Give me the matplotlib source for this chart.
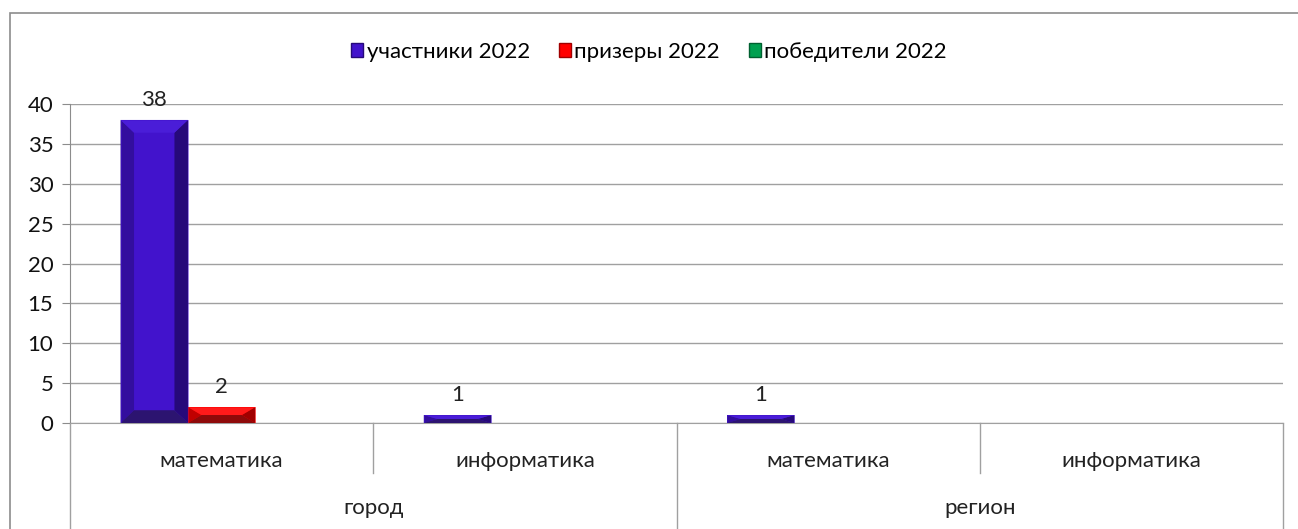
import matplotlib.pyplot as plt
import matplotlib.patches as mpatches
import matplotlib.transforms as mtransforms
import numpy as np

plt.rcParams['font.family'] = ['Lato', 'DejaVu Sans']

subjects = ["математика", "информатика", "математика", "информатика"]
levels = ["город", "регион"]
series_names = ["участники 2022", "призеры 2022", "победители 2022"]
participants = [38, 1, 1, 0]
prizewinners = [2, 0, 0, 0]
winners = [0, 0, 0, 0]

# face, left bevel, right bevel, top bevel, bottom bevel
palettes = [
    ("#4213CC", "#330E9E", "#26097A", "#4A1DD8", "#2C1470"),
    ("#FF0000", "#C00000", "#A00000", "#FF1A1A", "#8E0A0A"),
    ("#00A050", "#008040", "#006030", "#10B060", "#005028"),
]
FS = 16

fig = plt.figure(figsize=(12.98, 5.29), dpi=100)
ax = fig.add_axes([70 / 1298, 1 - 423 / 529, (1283 - 70) / 1298, (423 - 104) / 529])

# outer frame
fig.patches.append(mpatches.Rectangle((10 / 1298, -0.1), 1.2, 0.1 + 1 - 13 / 529,
                                      transform=fig.transFigure, fill=False,
                                      edgecolor="#8C8C8C", linewidth=1.2))

x = np.arange(len(subjects))
w = 1 / 4.5
all_series = [participants, prizewinners, winners]


def bevel_bar(ax, xc, h, w, pal):
    if h <= 0:
        return
    x0, x1 = xc - w / 2, xc + w / 2
    bx = 0.2 * w
    by = min(1.6, h / 2)
    face, left, right, top, bottom = pal
    ax.add_patch(mpatches.Rectangle((x0, 0), w, h, facecolor=face, edgecolor="none", zorder=3))
    ax.add_patch(mpatches.Polygon([(x0, 0), (x0 + bx, by), (x0 + bx, h - by), (x0, h)],
                                  facecolor=left, edgecolor="none", zorder=4))
    ax.add_patch(mpatches.Polygon([(x1, 0), (x1 - bx, by), (x1 - bx, h - by), (x1, h)],
                                  facecolor=right, edgecolor="none", zorder=4))
    ax.add_patch(mpatches.Polygon([(x0, h), (x0 + bx, h - by), (x1 - bx, h - by), (x1, h)],
                                  facecolor=top, edgecolor="none", zorder=4))
    ax.add_patch(mpatches.Polygon([(x0, 0), (x0 + bx, by), (x1 - bx, by), (x1, 0)],
                                  facecolor=bottom, edgecolor="none", zorder=4))
    ax.add_patch(mpatches.Rectangle((x0, 0), w, h, fill=False, edgecolor=face,
                                    linewidth=0.6, alpha=0.6, zorder=5))
    ax.annotate(str(h), (xc, h), xytext=(0, 7), textcoords="offset points",
                ha="center", va="bottom", fontsize=FS, color="#222222")


for i, vals in enumerate(all_series):
    for j, v in enumerate(vals):
        bevel_bar(ax, x[j] + (i - 1) * w, v, w, palettes[i])

ax.set_xlim(-0.5, len(subjects) - 0.5)
ax.set_ylim(0, 40)
ax.set_yticks(range(0, 41, 5))
ax.tick_params(axis="y", labelsize=FS, length=6, color="#8C8C8C", pad=6, labelcolor="#111111")
ax.set_xticks([])
ax.grid(axis="y", color="#A0A0A0", linewidth=1)
ax.set_axisbelow(True)
for s in ["top", "right"]:
    ax.spines[s].set_visible(False)
ax.spines["left"].set_color("#8C8C8C")
ax.spines["bottom"].set_color("#A0A0A0")

# category axis
tr = mtransforms.blended_transform_factory(ax.transData, ax.transAxes)
for j, s in enumerate(subjects):
    ax.text(x[j], -0.119, s, transform=tr, ha="center", va="center", fontsize=FS, color="#222222")
for k, lv in enumerate(levels):
    ax.text(2 * k + 0.5, -0.266, lv, transform=tr, ha="center", va="center", fontsize=FS, color="#222222")
for b in [0.5, 2.5]:
    ax.plot([b, b], [0, -0.157], transform=tr, color="#A0A0A0", linewidth=1, clip_on=False)
for b in [-0.5, 1.5, 3.5]:
    ax.plot([b, b], [0, -0.4], transform=tr, color="#A0A0A0", linewidth=1, clip_on=False)

handles = [mpatches.Patch(facecolor=p[0], edgecolor=p[2]) for p in palettes]
fig.legend(handles, series_names, loc="center", bbox_to_anchor=(0.5, 1 - 52 / 529), ncol=3,
           frameon=False, fontsize=FS, handlelength=0.55, handleheight=0.55,
           handletextpad=0.15, columnspacing=1.3)

fig.savefig("out.png", dpi=100)
